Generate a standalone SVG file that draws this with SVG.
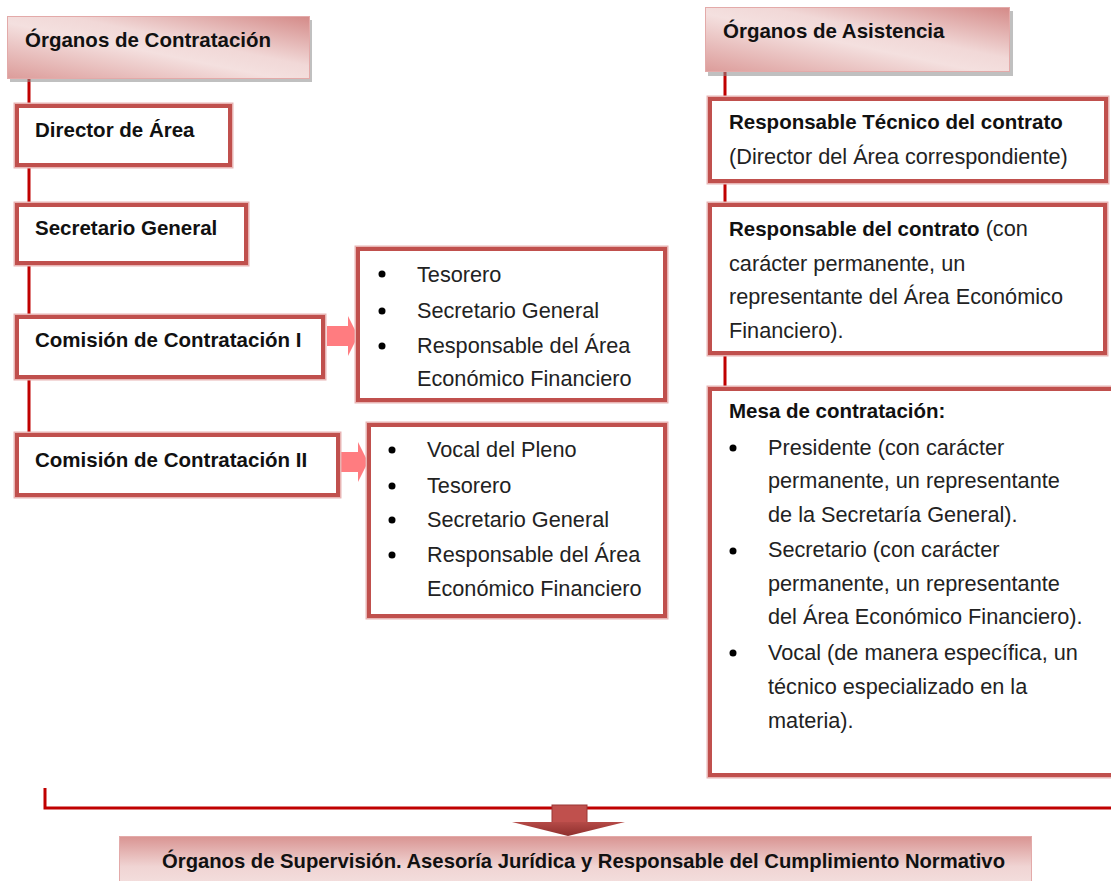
<svg xmlns="http://www.w3.org/2000/svg" width="1111" height="881" viewBox="0 0 1111 881">
<defs>
<linearGradient id="hdr" x1="0" y1="1" x2="1" y2="0">
<stop offset="0" stop-color="#dc9c9a"/>
<stop offset="0.45" stop-color="#f4e0df"/>
<stop offset="0.6" stop-color="#f1d8d7"/>
<stop offset="1" stop-color="#d48a88"/>
</linearGradient>
<linearGradient id="bot" x1="0" y1="0" x2="0" y2="1">
<stop offset="0" stop-color="#d99492"/>
<stop offset="0.6" stop-color="#f0d4d3"/>
<stop offset="1" stop-color="#f4e0df"/>
</linearGradient>
<linearGradient id="dhead" x1="0" y1="0" x2="0" y2="1">
<stop offset="0" stop-color="#b54a47"/>
<stop offset="1" stop-color="#8e2f2d"/>
</linearGradient>
<style>
.box{fill:#ffffff;stroke:#c0504d;stroke-width:4}
.halo{fill:none;stroke:#e8b4b3;stroke-width:7}
.hdr{fill:url(#hdr);stroke:#e3aaa9;stroke-width:1}
.shadow{fill:#8c8c8c;opacity:0.55}
.conn{fill:none;stroke:#c00000;stroke-width:3}
.parr{fill:#ff7c80}
.b{font-family:"Liberation Sans",Arial,sans-serif;font-weight:bold;font-size:20.5px;fill:#111}
.r{font-family:"Liberation Sans",Arial,sans-serif;font-size:21.7px;fill:#222}
.dot{fill:#000}
</style>
</defs>
<rect width="1111" height="881" fill="#ffffff"/>

<g id="connectors">
<path class="conn" d="M29 79 V435"/>
<path class="conn" d="M725 72 V389"/>
<path class="conn" d="M45 788 V808 H1111"/>
<polygon class="parr" points="327,326 348,326 348,316 358,336 348,356 348,346 327,346"/>
<polygon class="parr" points="333,452 358,452 358,442 368,462 358,482 358,472 333,472"/>
<g id="down-arrow">
<rect x="552" y="805" width="35" height="18" fill="#c0504d" stroke="#9a3634" stroke-width="1"/>
<polygon points="512,822 625,822 568,836" fill="url(#dhead)"/>
</g>
</g>

<g id="hdr-contratacion">
<rect class="shadow" x="10" y="20" width="302" height="62"/>
<rect class="hdr" x="7.5" y="16.5" width="302" height="62"/>
<text class="b" x="25" y="47">Órganos de Contratación</text>
</g>

<g id="director">
<rect class="halo" x="17" y="106" width="213" height="59"/>
<rect class="box" x="17" y="106" width="213" height="59"/>
<text class="b" x="35" y="137">Director de Área</text>
</g>

<g id="secretario">
<rect class="halo" x="17" y="205" width="229" height="58"/>
<rect class="box" x="17" y="205" width="229" height="58"/>
<text class="b" x="35" y="235">Secretario General</text>
</g>

<g id="comision1">
<rect class="halo" x="17" y="317" width="306" height="60"/>
<rect class="box" x="17" y="317" width="306" height="60"/>
<text class="b" x="35" y="347">Comisión de Contratación I</text>
</g>

<g id="comision2">
<rect class="halo" x="17" y="435" width="321" height="60"/>
<rect class="box" x="17" y="435" width="321" height="60"/>
<text class="b" x="35" y="467">Comisión de Contratación II</text>
</g>

<g id="lista1">
<rect class="halo" x="358" y="249" width="307" height="151"/>
<rect class="box" x="358" y="249" width="307" height="151"/>
<circle class="dot" cx="382" cy="274" r="3.5"/>
<circle class="dot" cx="382" cy="311" r="3.5"/>
<circle class="dot" cx="382" cy="346" r="3.5"/>
<text class="r" x="417" y="282">Tesorero</text>
<text class="r" x="417" y="318">Secretario General</text>
<text class="r" x="417" y="353">Responsable del Área</text>
<text class="r" x="417" y="386">Económico Financiero</text>
</g>

<g id="lista2">
<rect class="halo" x="369" y="425" width="296" height="191"/>
<rect class="box" x="369" y="425" width="296" height="191"/>
<circle class="dot" cx="392" cy="450" r="3.5"/>
<circle class="dot" cx="392" cy="486" r="3.5"/>
<circle class="dot" cx="392" cy="520" r="3.5"/>
<circle class="dot" cx="392" cy="555" r="3.5"/>
<text class="r" x="427" y="457">Vocal del Pleno</text>
<text class="r" x="427" y="493">Tesorero</text>
<text class="r" x="427" y="527">Secretario General</text>
<text class="r" x="427" y="562">Responsable del Área</text>
<text class="r" x="427" y="596">Económico Financiero</text>
</g>

<g id="hdr-asistencia">
<rect class="shadow" x="708" y="11" width="305" height="65"/>
<rect class="hdr" x="705.5" y="7.5" width="304" height="64"/>
<text class="b" x="723" y="38">Órganos de Asistencia</text>
</g>

<g id="resp-tecnico">
<rect class="halo" x="710" y="99" width="396" height="82"/>
<rect class="box" x="710" y="99" width="396" height="82"/>
<text class="b" x="729" y="129">Responsable Técnico del contrato</text>
<text class="r" x="729" y="164">(Director del Área correspondiente)</text>
</g>

<g id="resp-contrato">
<rect class="halo" x="710" y="205" width="395" height="148"/>
<rect class="box" x="710" y="205" width="395" height="148"/>
<text x="729" y="236"><tspan class="b">Responsable del contrato</tspan><tspan class="r"> (con</tspan></text>
<text class="r" x="729" y="271">carácter permanente, un</text>
<text class="r" x="729" y="304">representante del Área Económico</text>
<text class="r" x="729" y="338">Financiero).</text>
</g>

<g id="mesa">
<rect class="halo" x="710" y="389" width="410" height="386"/>
<rect class="box" x="710" y="389" width="410" height="386"/>
<text class="b" x="729" y="418">Mesa de contratación:</text>
<circle class="dot" cx="733" cy="448" r="3.5"/>
<circle class="dot" cx="733" cy="551" r="3.5"/>
<circle class="dot" cx="733" cy="653" r="3.5"/>
<text class="r" x="768" y="455">Presidente (con carácter</text>
<text class="r" x="768" y="488">permanente, un representante</text>
<text class="r" x="768" y="522">de la Secretaría General).</text>
<text class="r" x="768" y="557">Secretario (con carácter</text>
<text class="r" x="768" y="591">permanente, un representante</text>
<text class="r" x="768" y="624">del Área Económico Financiero).</text>
<text class="r" x="768" y="660">Vocal (de manera específica, un</text>
<text class="r" x="768" y="694">técnico especializado en la</text>
<text class="r" x="768" y="728">materia).</text>
</g>

<g id="hdr-supervision">
<rect x="119.5" y="836.5" width="912" height="50" fill="url(#bot)" stroke="#e3aaa9" stroke-width="1"/>
<text class="b" x="162" y="868" textLength="843" lengthAdjust="spacingAndGlyphs">Órganos de Supervisión. Asesoría Jurídica y Responsable del Cumplimiento Normativo</text>
</g>
</svg>
